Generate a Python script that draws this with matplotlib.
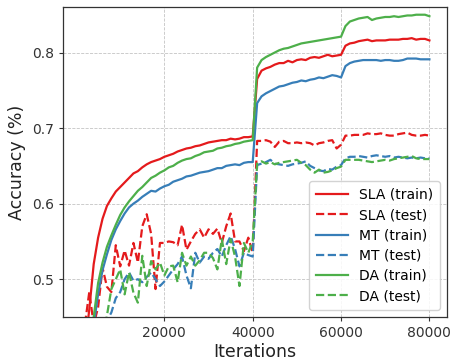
import matplotlib
matplotlib.use("Agg")
import matplotlib.pyplot as plt

iterations = list(range(1000, 80001, 1000))

sla_train = [0.36, 0.41, 0.46, 0.52, 0.555, 0.58, 0.597, 0.607, 0.616, 0.622,
             0.628, 0.634, 0.640, 0.643, 0.648, 0.652, 0.655, 0.657, 0.659, 0.662,
             0.664, 0.666, 0.669, 0.671, 0.673, 0.674, 0.676, 0.677, 0.679, 0.681,
             0.682, 0.683, 0.684, 0.684, 0.686, 0.685, 0.686, 0.688, 0.688, 0.689,
             0.765, 0.776, 0.779, 0.781, 0.784, 0.786, 0.786, 0.789, 0.787, 0.790,
             0.791, 0.790, 0.793, 0.794, 0.793, 0.795, 0.797, 0.795, 0.796, 0.797,
             0.809, 0.812, 0.813, 0.815, 0.816, 0.817, 0.815, 0.816, 0.816, 0.816,
             0.817, 0.817, 0.817, 0.818, 0.818, 0.819, 0.817, 0.818, 0.818, 0.816]

sla_test = [0.38, 0.44, 0.483, 0.44, 0.463, 0.515, 0.49, 0.483, 0.545, 0.517,
            0.538, 0.518, 0.548, 0.522, 0.570, 0.586, 0.560, 0.487, 0.548, 0.548,
            0.550, 0.549, 0.545, 0.572, 0.539, 0.550, 0.560, 0.566, 0.555, 0.566,
            0.560, 0.567, 0.548, 0.570, 0.587, 0.550, 0.550, 0.537, 0.555, 0.535,
            0.683, 0.683, 0.684, 0.682, 0.675, 0.682, 0.683, 0.680, 0.680, 0.681,
            0.680, 0.681, 0.680, 0.677, 0.680, 0.681, 0.683, 0.684, 0.673, 0.678,
            0.690, 0.690, 0.691, 0.691, 0.691, 0.693, 0.692, 0.692, 0.693, 0.691,
            0.690, 0.690, 0.692, 0.693, 0.694, 0.691, 0.690, 0.690, 0.691, 0.690]

mt_train = [0.30, 0.35, 0.40, 0.44, 0.48, 0.512, 0.533, 0.552, 0.566, 0.577,
            0.587, 0.595, 0.600, 0.604, 0.609, 0.613, 0.617, 0.616, 0.620, 0.623,
            0.625, 0.629, 0.631, 0.633, 0.636, 0.637, 0.639, 0.641, 0.642, 0.643,
            0.645, 0.647, 0.647, 0.650, 0.651, 0.652, 0.651, 0.654, 0.655, 0.655,
            0.733, 0.742, 0.746, 0.749, 0.752, 0.755, 0.756, 0.758, 0.760, 0.761,
            0.763, 0.762, 0.764, 0.765, 0.767, 0.766, 0.768, 0.770, 0.769, 0.767,
            0.782, 0.786, 0.788, 0.789, 0.790, 0.790, 0.790, 0.790, 0.789, 0.790,
            0.790, 0.789, 0.789, 0.790, 0.792, 0.792, 0.792, 0.791, 0.791, 0.791]

mt_test = [0.30, 0.33, 0.36, 0.39, 0.41, 0.43, 0.445, 0.456, 0.475, 0.483,
           0.500, 0.509, 0.498, 0.500, 0.496, 0.503, 0.509, 0.500, 0.491, 0.497,
           0.505, 0.513, 0.520, 0.530, 0.505, 0.488, 0.535, 0.522, 0.530, 0.527,
           0.535, 0.540, 0.530, 0.545, 0.557, 0.540, 0.517, 0.535, 0.532, 0.530,
           0.651, 0.653, 0.655, 0.658, 0.653, 0.652, 0.651, 0.650, 0.652, 0.653,
           0.654, 0.656, 0.650, 0.647, 0.644, 0.643, 0.646, 0.645, 0.649, 0.651,
           0.660, 0.662, 0.662, 0.663, 0.662, 0.661, 0.663, 0.664, 0.663, 0.662,
           0.663, 0.661, 0.662, 0.661, 0.660, 0.661, 0.660, 0.661, 0.660, 0.660]

da_train = [0.30, 0.36, 0.41, 0.45, 0.495, 0.522, 0.543, 0.558, 0.572, 0.585,
            0.595, 0.603, 0.610, 0.617, 0.622, 0.628, 0.634, 0.637, 0.641, 0.644,
            0.648, 0.650, 0.654, 0.657, 0.659, 0.660, 0.663, 0.665, 0.668, 0.669,
            0.670, 0.673, 0.674, 0.676, 0.677, 0.679, 0.680, 0.682, 0.683, 0.684,
            0.780, 0.790, 0.794, 0.797, 0.800, 0.803, 0.805, 0.806, 0.808, 0.810,
            0.812, 0.813, 0.814, 0.815, 0.816, 0.817, 0.818, 0.819, 0.820, 0.821,
            0.835, 0.841, 0.843, 0.845, 0.846, 0.847, 0.843, 0.845, 0.846, 0.847,
            0.847, 0.848, 0.847, 0.848, 0.849, 0.849, 0.850, 0.850, 0.850, 0.848]

da_test = [0.28, 0.32, 0.35, 0.38, 0.40, 0.42, 0.452, 0.487, 0.500, 0.513,
           0.480, 0.509, 0.482, 0.469, 0.531, 0.491, 0.524, 0.513, 0.522, 0.505,
           0.517, 0.518, 0.496, 0.535, 0.518, 0.530, 0.518, 0.525, 0.535, 0.535,
           0.528, 0.513, 0.553, 0.520, 0.553, 0.530, 0.491, 0.548, 0.535, 0.550,
           0.653, 0.656, 0.653, 0.655, 0.652, 0.654, 0.655, 0.656, 0.657, 0.658,
           0.654, 0.651, 0.645, 0.641, 0.645, 0.641, 0.642, 0.644, 0.647, 0.649,
           0.658, 0.658, 0.658, 0.658, 0.657, 0.656, 0.655, 0.656, 0.657, 0.658,
           0.657, 0.659, 0.660, 0.661, 0.662, 0.663, 0.660, 0.659, 0.659, 0.659]

x_ticks = [20000, 40000, 60000, 80000]
y_ticks = [0.5, 0.6, 0.7, 0.8]
y_tick_labels = ["0.5", "0.6", "0.7", "0.8"]

RED, BLUE, GREEN = "#e41a1c", "#377eb8", "#4daf4a"

fig = plt.figure(figsize=(4.5, 3.58), dpi=100)
ax = fig.add_axes([0.14, 0.1145, 0.853, 0.8655])

lw = 1.6
ax.plot(iterations, sla_train, color=RED, lw=lw, label="SLA (train)")
ax.plot(iterations, sla_test, color=RED, lw=lw, ls="--", label="SLA (test)")
ax.plot(iterations, mt_train, color=BLUE, lw=lw, label="MT (train)")
ax.plot(iterations, mt_test, color=BLUE, lw=lw, ls="--", label="MT (test)")
ax.plot(iterations, da_train, color=GREEN, lw=lw, label="DA (train)")
ax.plot(iterations, da_test, color=GREEN, lw=lw, ls="--", label="DA (test)")

ax.set_ylim(0.45, 0.86)
ax.set_xticks(x_ticks)
ax.set_xticklabels([str(t) for t in x_ticks])
ax.set_yticks(y_ticks)
ax.set_yticklabels(y_tick_labels)
ax.tick_params(labelsize=10, colors="#333333", length=3)
ax.grid(True, ls="--", color="#c4c4c4", lw=0.6)
ax.set_axisbelow(True)
for s in ax.spines.values():
    s.set_color("#333333")
    s.set_linewidth(0.9)

ax.set_xlabel("Iterations", fontsize=12.5, color="#222222", labelpad=2)
ax.set_ylabel("Accuracy (%)", fontsize=12.5, color="#222222", labelpad=4)

ax.legend(loc="lower right", fontsize=10, framealpha=0.85, edgecolor="#cccccc",
          handlelength=2.3, borderpad=0.5, labelspacing=0.45)

fig.savefig("out.png", dpi=100)
